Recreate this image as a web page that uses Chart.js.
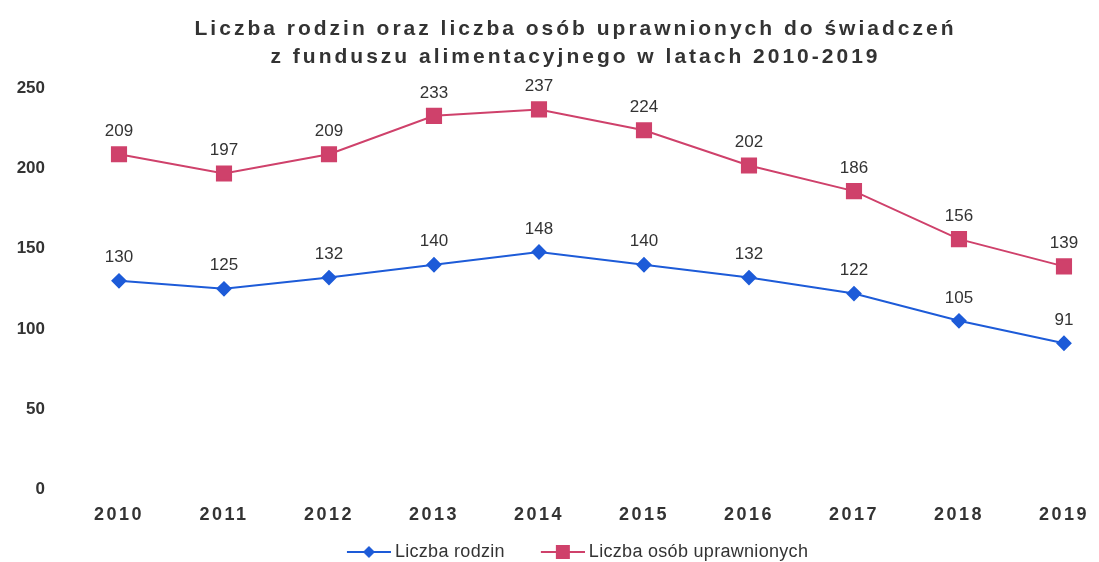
<!DOCTYPE html>
<html>
<head>
<meta charset="utf-8">
<script src="https://cdn.jsdelivr.net/npm/chart.js@4"></script>
<style>
  html, body { margin: 0; background: #fff; }
  #wrap { width: 1099px; height: 562px; }
</style>
</head>
<body>
<div id="wrap"><canvas id="wykres"></canvas></div>
<script>
const lata = ['2010', '2011', '2012', '2013', '2014', '2015', '2016', '2017', '2018', '2019'];
const liczbaRodzin = [130, 125, 132, 140, 148, 140, 132, 122, 105, 91];
const liczbaOsob = [209, 197, 209, 233, 237, 224, 202, 186, 156, 139];
const tytul = ['Liczba rodzin oraz liczba osób uprawnionych do świadczeń', 'z funduszu alimentacyjnego w latach 2010-2019'];

const NIEBIESKI = '#1d5bd8';
const ROZOWY = '#cf416b';
const TEKST = '#333333';
const FONT = '"Liberation Sans", Arial, sans-serif';

// ikonki do legendy: linia z markerem, przy prawej krawedzi (lewa czesc pusta = odstep miedzy pozycjami)
const ikona = (kolor, ksztalt) => {
  const c = document.createElement('canvas');
  c.width = 80; c.height = 16;
  const g = c.getContext('2d');
  g.strokeStyle = kolor; g.fillStyle = kolor; g.lineWidth = 2;
  g.beginPath(); g.moveTo(36, 8); g.lineTo(80, 8); g.stroke();
  g.beginPath();
  if (ksztalt === 'romb') {
    g.moveTo(58, 2); g.lineTo(64, 8); g.lineTo(58, 14); g.lineTo(52, 8);
  } else {
    g.rect(51, 1, 14, 14);
  }
  g.closePath(); g.fill();
  return c;
};
const ikony = [ikona(NIEBIESKI, 'romb'), ikona(ROZOWY, 'kwadrat')];

// rozstrzelony tekst (letter-spacing) i przesuniecie tytulu/legendy
const odstepy = {
  id: 'odstepy',
  beforeLayout(chart) {
    const owin = (box, px, dx, dy) => {
      if (!box || box._odstep) return;
      const draw = box.draw;
      box.draw = function (area) {
        this.ctx.save();
        this.ctx.letterSpacing = px;
        this.ctx.translate(dx, dy);
        draw.call(this, area);
        this.ctx.restore();
      };
      box._odstep = true;
    };
    owin(chart.titleBlock, '3px', 38, 0);
    owin(chart.scales.x, '2.5px', 0, 0);
    owin(chart.legend, '0.3px', 19, 9);
  }
};

// wartosci nad punktami
const etykiety = {
  id: 'etykiety',
  afterDatasetsDraw(chart) {
    const ctx = chart.ctx;
    ctx.save();
    ctx.font = '17px ' + FONT;
    ctx.fillStyle = TEKST;
    ctx.textAlign = 'center';
    ctx.textBaseline = 'middle';
    chart.data.datasets.forEach((ds, i) => {
      chart.getDatasetMeta(i).data.forEach((pt, j) => {
        ctx.fillText(ds.data[j], pt.x, pt.y - 23);
      });
    });
    ctx.restore();
  }
};

const wykres = new Chart(document.getElementById('wykres'), {
  type: 'line',
  data: {
    labels: lata,
    datasets: [{
      label: 'Liczba rodzin',
      data: liczbaRodzin,
      borderColor: NIEBIESKI,
      backgroundColor: NIEBIESKI,
      borderWidth: 2,
      pointStyle: 'rectRot',
      pointRadius: 6.5,
      tension: 0
    }, {
      label: 'Liczba osób uprawnionych',
      data: liczbaOsob,
      borderColor: ROZOWY,
      backgroundColor: ROZOWY,
      borderWidth: 2,
      pointStyle: 'rect',
      pointRadius: 10,
      tension: 0
    }]
  },
  options: {
    responsive: true,
    maintainAspectRatio: false,
    animation: false,
    layout: { padding: { left: 0, right: 24, top: 0, bottom: 0 } },
    scales: {
      x: {
        grid: { display: false, drawTicks: false },
        border: { display: false },
        ticks: { color: TEKST, padding: 15, font: { family: FONT, size: 18, weight: 'bold' } },
        afterFit: (s) => { s.height = 40; }
      },
      y: {
        min: 0,
        max: 250,
        grid: { display: false, drawTicks: false },
        border: { display: false },
        ticks: { stepSize: 50, color: TEKST, padding: 74, font: { family: FONT, size: 17, weight: 'bold' } },
        afterFit: (s) => {
          s.width = 119;
          s.paddingTop = 10;
          s.paddingBottom = 10;
        }
      }
    },
    plugins: {
      title: {
        display: true,
        text: tytul,
        color: TEKST,
        font: { family: FONT, size: 21, weight: 'bold', lineHeight: 1.3 },
        padding: { top: 16, bottom: 18 }
      },
      legend: {
        position: 'bottom',
        labels: {
          usePointStyle: true,
          pointStyleWidth: 70,
          padding: 5,
          color: TEKST,
          font: { family: FONT, size: 18 },
          generateLabels: (chart) => Chart.defaults.plugins.legend.labels.generateLabels(chart)
            .map((l, i) => ({ ...l, pointStyle: ikony[i] }))
        }
      },
      tooltip: { enabled: false }
    }
  },
  plugins: [odstepy, etykiety]
});
</script>
</body>
</html>
